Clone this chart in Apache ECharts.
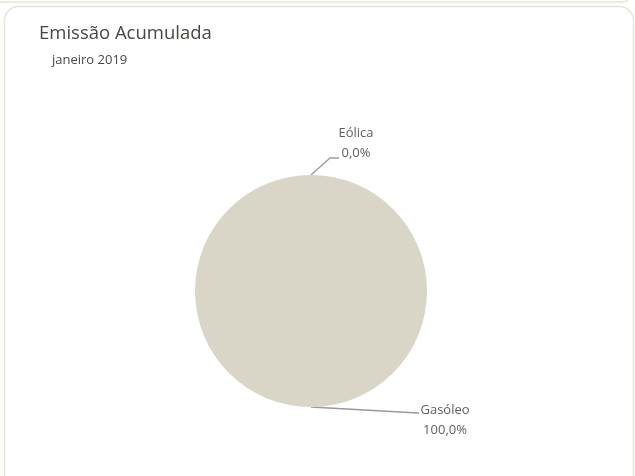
<!DOCTYPE html>
<html>
<head>
<meta charset="utf-8">
<script src="https://cdn.jsdelivr.net/npm/echarts@6/dist/echarts.min.js"></script>
<style>
html,body{margin:0;padding:0;background:#fff;}
#chart{width:635px;height:476px;}
</style>
</head>
<body>
<div id="chart"></div>
<script>
const titleText = 'Emissão Acumulada';
const subtitleText = 'janeiro 2019';
const categories = ['Eólica', 'Gasóleo'];
const values = [0, 100];
const colors = ['#7f7f7f', '#d9d6c8'];

const chart = echarts.init(document.getElementById('chart'));
const fmt = v => v.toFixed(1).replace('.', ',') + '%';
const total = values.reduce((a, b) => a + b, 0);

chart.setOption({
  animation: false,
  title: [{
    text: titleText,
    left: 34,
    top: 19,
    textStyle: {fontFamily: 'Open Sans', fontSize: 18.5, fontWeight: 'normal', color: '#4a4740'}
  }, {
    text: subtitleText,
    left: 47,
    top: 49,
    textStyle: {fontFamily: 'Open Sans', fontSize: 13, fontWeight: 'normal', color: '#4a4740'}
  }],
  graphic: [
    {type: 'rect', shape: {x: -20, y: -40, width: 652, height: 42, r: 10}, style: {fill: 'none', stroke: '#e8e4d3', lineWidth: 1.5}},
    {type: 'rect', shape: {x: 4.5, y: 6.5, width: 629, height: 500, r: 14}, style: {fill: 'none', stroke: '#e8e4d3', lineWidth: 1.5}}
  ],
  series: [{
    type: 'pie',
    center: [311, 291],
    radius: [0, 116],
    startAngle: 90,
    clockwise: true,
    minShowLabelAngle: 0,
    stillShowZeroSum: true,
    avoidLabelOverlap: false,
    data: categories.map((c, i) => ({name: c, value: values[i], itemStyle: {color: colors[i]}})),
    label: {
      show: true,
      formatter: p => p.name + '\n' + fmt(p.value / total * 100),
      fontFamily: 'Open Sans',
      fontSize: 13,
      lineHeight: 20,
      color: '#605e5c',
      align: 'center'
    },
    labelLine: {show: true, length: 0, length2: 0, lineStyle: {color: '#9a9a9a', width: 1.3}},
    labelLayout: function (params) {
      const p = params.labelLinePoints;
      if (!p) return {};
      const x0 = p[0][0], y0 = p[0][1];
      if (params.dataIndex === 0) {
        const pts = [[x0, y0], [x0 + 19, y0 - 17], [x0 + 28, y0 - 17]];
        return {x: x0 + 45, y: y0 - 32, align: 'center', verticalAlign: 'middle', labelLinePoints: pts};
      } else {
        const pts = [[x0, y0], [x0 + 107, y0 + 6], [x0 + 108, y0 + 6]];
        return {x: x0 + 134, y: y0 + 13, align: 'center', verticalAlign: 'middle', labelLinePoints: pts};
      }
    }
  }]
});
</script>
</body>
</html>
